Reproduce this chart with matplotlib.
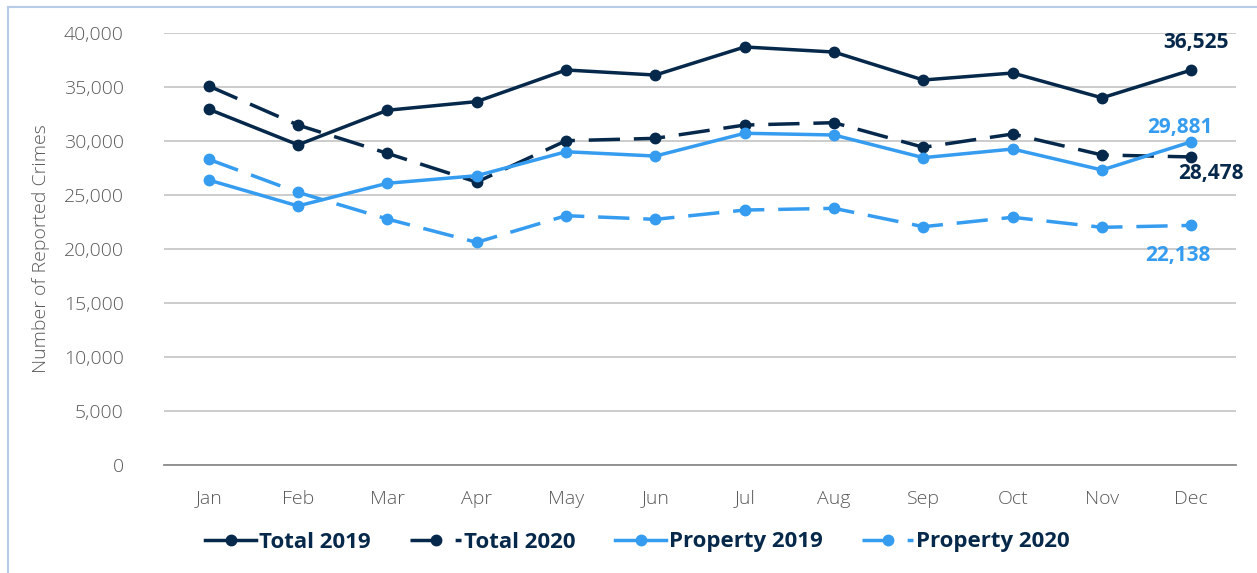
import matplotlib
matplotlib.use('Agg')
import matplotlib.pyplot as plt
from matplotlib.lines import Line2D
from matplotlib.ticker import FuncFormatter

months = ['Jan', 'Feb', 'Mar', 'Apr', 'May', 'Jun', 'Jul', 'Aug', 'Sep', 'Oct', 'Nov', 'Dec']
total_2019 = [32900, 29600, 32800, 33600, 36530, 36060, 38660, 38190, 35600, 36250, 33950, 36525]
total_2020 = [35050, 31430, 28810, 26150, 29980, 30200, 31430, 31650, 29370, 30600, 28660, 28478]
property_2019 = [26340, 23940, 26040, 26740, 28960, 28560, 30670, 30510, 28410, 29210, 27270, 29881]
property_2020 = [28260, 25200, 22730, 20570, 23040, 22700, 23560, 23720, 22020, 22890, 21960, 22138]

dark = '#06284a'
light = '#359cf0'
grey = '#595959'

plt.rcParams['font.family'] = ['Open Sans', 'DejaVu Sans']

fig = plt.figure(figsize=(12.57, 5.73), dpi=100)
ax = fig.add_axes([164 / 1257, 1 - 464.5 / 573, 1072 / 1257, 432 / 573])

x = range(len(months))
lw = 2.5
ms = 7.5
ax.plot(x, total_2019, color=dark, lw=lw, marker='o', ms=ms, label='Total 2019', zorder=4)
ax.plot(x, total_2020, color=dark, lw=lw, marker='o', ms=ms, dashes=(9, 4), label='Total 2020', zorder=3)
ax.plot(x, property_2019, color=light, lw=lw, marker='o', ms=ms, label='Property 2019', zorder=4)
ax.plot(x, property_2020, color=light, lw=lw, marker='o', ms=ms, dashes=(9, 4), label='Property 2020', zorder=3)

ax.set_xlim(-0.5, 11.5)
ax.set_ylim(0, 40000)
ax.set_yticks(range(0, 40001, 5000))
ax.yaxis.set_major_formatter(FuncFormatter(lambda v, p: f'{int(v):,}'))
ax.set_xticks(list(x))
ax.set_xticklabels(months)
ax.grid(axis='y', color='#c8c8c8', lw=1.3, zorder=0)
ax.set_axisbelow(True)
for s in ['top', 'right', 'left']:
    ax.spines[s].set_visible(False)
ax.spines['bottom'].set_color('#8c8c8c')
ax.spines['bottom'].set_linewidth(1.3)
ax.tick_params(axis='both', length=0, labelsize=14, labelcolor=grey)
ax.tick_params(axis='y', pad=29)
ax.tick_params(axis='x', pad=18)
for t in ax.get_xticklabels() + ax.get_yticklabels():
    t.set_fontweight('light')

ax.set_ylabel('Number of Reported Crimes', fontsize=14, color=grey, fontweight='light')
ax.yaxis.set_label_coords(-0.106, 0.5)

ann = dict(textcoords='offset points', ha='center', va='center', fontsize=15, fontweight='bold')
ax.annotate(f'{total_2019[-1]:,}', (11, total_2019[-1]), xytext=(3, 20), color=dark, **ann)
ax.annotate(f'{property_2019[-1]:,}', (11, property_2019[-1]), xytext=(-8, 10), color=light, **ann)
ax.annotate(f'{total_2020[-1]:,}', (11, total_2020[-1]), xytext=(14, -12), color=dark, **ann)
ax.annotate(f'{property_2020[-1]:,}', (11, property_2020[-1]), xytext=(-10, -22), color=light, **ann)

leg = fig.legend(loc='center', bbox_to_anchor=(0.507, 1 - 542 / 573), ncol=4, frameon=False,
                 fontsize=16, handlelength=2.3, handletextpad=0.1, columnspacing=1.8)
for t in leg.get_texts():
    t.set_color(dark)
    t.set_fontweight('bold')

fig.add_artist(Line2D([8 / 1257, 1], [1 - 7 / 573, 1 - 7 / 573], color='#b8cbe8', lw=1.5))
fig.add_artist(Line2D([8 / 1257, 8 / 1257], [0, 1 - 7 / 573], color='#b8cbe8', lw=1.5))

fig.savefig('out.png', dpi=100)
